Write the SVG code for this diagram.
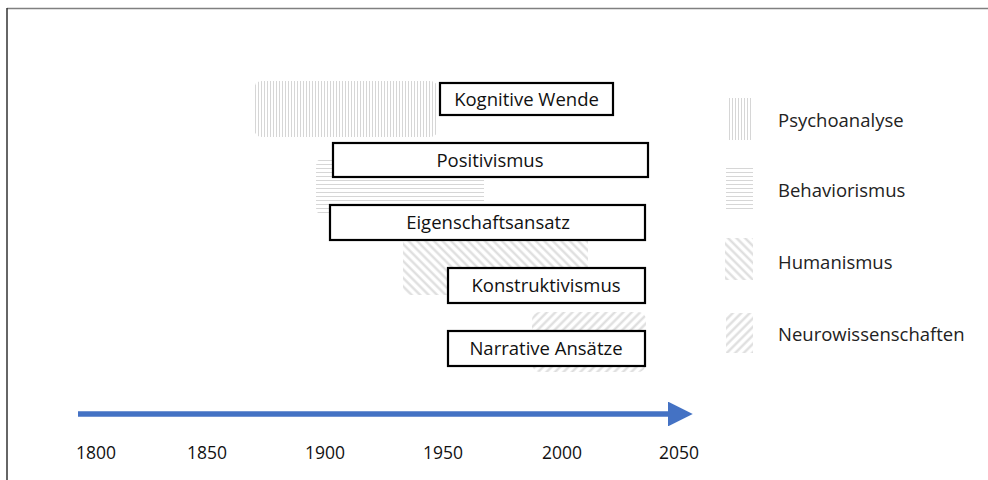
<svg xmlns="http://www.w3.org/2000/svg" width="988" height="480" viewBox="0 0 988 480">
<defs>
<pattern id="pv" width="3" height="3" patternUnits="userSpaceOnUse"><rect width="3" height="3" fill="#fff"/><line x1="0.5" y1="0" x2="0.5" y2="3" stroke="#d6d6d6" stroke-width="1"/></pattern>
<pattern id="ph" width="4" height="4" patternUnits="userSpaceOnUse"><rect width="4" height="4" fill="#fff"/><line x1="0" y1="0.5" x2="4" y2="0.5" stroke="#d6d6d6" stroke-width="1"/></pattern>
<pattern id="pd1" width="6" height="6" patternUnits="userSpaceOnUse" patternTransform="rotate(45)"><rect width="6" height="6" fill="#fff"/><line x1="0" y1="1.5" x2="6" y2="1.5" stroke="#dcdcdc" stroke-width="2.2"/></pattern>
<pattern id="pd2" width="6" height="6" patternUnits="userSpaceOnUse" patternTransform="rotate(-45)"><rect width="6" height="6" fill="#fff"/><line x1="0" y1="1.5" x2="6" y2="1.5" stroke="#dcdcdc" stroke-width="2.2"/></pattern>
<marker id="ah" viewBox="0 0 10 10" refX="0" refY="5" markerWidth="4.5" markerHeight="4.5" orient="auto" markerUnits="strokeWidth"><path d="M0,0 L10,5 L0,10 z" fill="#4472C4"/></marker>
</defs>
<style>
.box{fill:#fff;stroke:#000;stroke-width:2.2}
.t{font-family:"Open Sans","Liberation Sans",sans-serif;font-size:18.5px;fill:#222}
.bt{font-family:"Open Sans","Liberation Sans",sans-serif;font-size:18.5px;fill:#111;text-anchor:middle}
.yr{font-family:"Open Sans","Liberation Sans",sans-serif;font-size:17.5px;fill:#111;text-anchor:middle}
</style>
<rect width="988" height="480" fill="#fff"/>
<g id="frame">
<line x1="7" y1="8.5" x2="988" y2="8.5" stroke="#808080" stroke-width="1.5"/>
<line x1="7" y1="8" x2="7" y2="480" stroke="#333" stroke-width="1.5"/>
</g>
<g id="eras">
<rect id="psychoanalyse-area" x="254" y="81" width="184" height="56" rx="8" fill="url(#pv)"/>
<rect id="behaviorismus-area" x="316" y="158" width="168" height="58" rx="8" fill="url(#ph)"/>
<rect id="humanismus-area" x="403" y="232" width="185" height="63" rx="8" fill="url(#pd1)"/>
<rect id="neuro-area" x="532" y="312" width="114" height="60" rx="8" fill="url(#pd2)"/>
</g>
<g id="kognitive-wende"><rect class="box" x="440" y="83" width="173" height="32"/><text class="bt" x="526.5" y="106">Kognitive Wende</text></g>
<g id="positivismus"><rect class="box" x="333" y="143" width="315" height="34"/><text class="bt" x="490" y="167">Positivismus</text></g>
<g id="eigenschaftsansatz"><rect class="box" x="330" y="205" width="315" height="35"/><text class="bt" x="488" y="229">Eigenschaftsansatz</text></g>
<g id="konstruktivismus"><rect class="box" x="448" y="268" width="197" height="35"/><text class="bt" x="546" y="292">Konstruktivismus</text></g>
<g id="narrative"><rect class="box" x="448" y="331" width="197" height="35"/><text class="bt" x="546" y="355">Narrative Ansätze</text></g>
<g id="legend">
<rect x="727" y="98" width="26" height="42" fill="url(#pv)"/>
<text class="t" x="778" y="127">Psychoanalyse</text>
<rect x="726" y="168" width="27" height="42" fill="url(#ph)"/>
<text class="t" x="778" y="197">Behaviorismus</text>
<rect x="725" y="238" width="28" height="42" fill="url(#pd1)"/>
<text class="t" x="778" y="269">Humanismus</text>
<rect x="726" y="313" width="27" height="40" fill="url(#pd2)"/>
<text class="t" x="778" y="341">Neurowissenschaften</text>
</g>
<g id="connectors">
<line x1="78" y1="414" x2="668" y2="414" stroke="#4472C4" stroke-width="5.5" marker-end="url(#ah)"/>
</g>
<g id="axis-labels">
<text class="yr" x="96" y="459">1800</text>
<text class="yr" x="207" y="459">1850</text>
<text class="yr" x="325" y="459">1900</text>
<text class="yr" x="443" y="459">1950</text>
<text class="yr" x="562" y="459">2000</text>
<text class="yr" x="679" y="459">2050</text>
</g>
</svg>
